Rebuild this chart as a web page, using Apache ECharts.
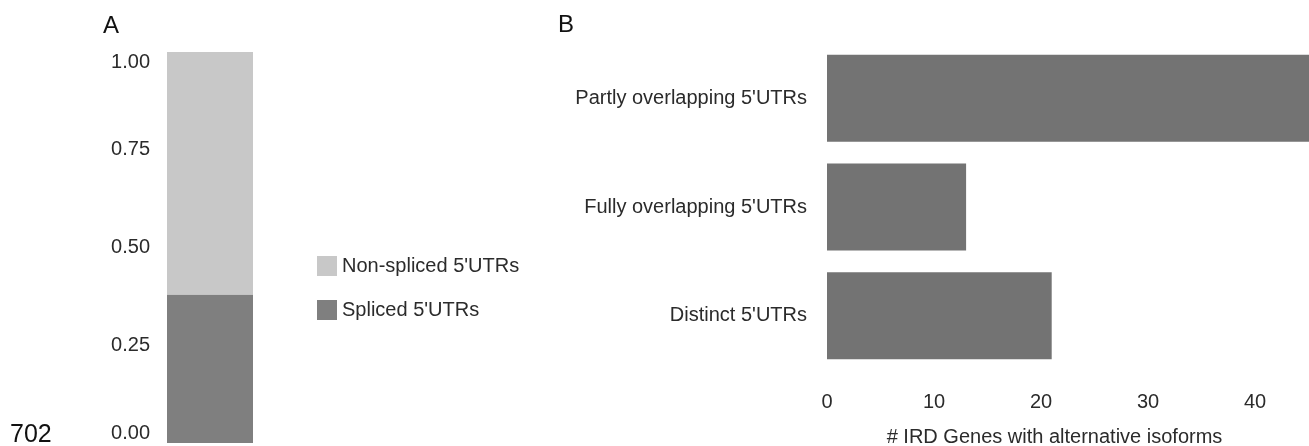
<!DOCTYPE html>
<html>
<head>
<meta charset="utf-8">
<script src="https://cdn.jsdelivr.net/npm/echarts@6/dist/echarts.min.js"></script>
<style>
  html, body { margin: 0; padding: 0; background: #fff; }
  #chart { width: 1309px; height: 446px; }
</style>
</head>
<body>
<div id="chart"></div>
<script>
// panel A: share of 5'UTRs
const splicedShare = [0.38];
const nonSplicedShare = [0.62];
const shareTicks = [0, 0.25, 0.5, 0.75, 1];

// panel B: genes per isoform type
const isoformTypes = ["Distinct 5'UTRs", "Fully overlapping 5'UTRs", "Partly overlapping 5'UTRs"];
const geneCounts = [21, 13, 47];

const font = 'Liberation Sans, Arial, sans-serif';
const textCol = '#2b2b2b';

const myChart = echarts.init(document.getElementById('chart'), null, { renderer: 'canvas' });

myChart.setOption({
  animation: false,
  backgroundColor: '#fff',
  textStyle: { fontFamily: font },
  title: [
    { text: 'A', left: 98, top: 9, padding: 5, textStyle: { fontSize: 24, fontWeight: 'normal', color: '#111', fontFamily: font } },
    { text: 'B', left: 553, top: 8, padding: 5, textStyle: { fontSize: 24, fontWeight: 'normal', color: '#111', fontFamily: font } },
    { text: '702', left: 5, top: 418, padding: 5, textStyle: { fontSize: 25, fontWeight: 'normal', color: '#111', fontFamily: font } }
  ],
  legend: {
    orient: 'vertical',
    left: 312,
    top: 251,
    itemWidth: 20,
    itemHeight: 20,
    itemGap: 24,
    icon: 'rect',
    data: ["Non-spliced 5'UTRs", "Spliced 5'UTRs"],
    textStyle: { fontSize: 20, color: textCol, fontFamily: font }
  },
  grid: [
    { left: 167, top: 52, width: 86, height: 391, outerBoundsMode: 'none', containLabel: false },
    { left: 827, top: 44, width: 535, height: 326, outerBoundsMode: 'none', containLabel: false }
  ],
  xAxis: [
    {
      gridIndex: 0, type: 'category', data: [''],
      axisLine: { show: false }, axisTick: { show: false }, axisLabel: { show: false }
    },
    {
      gridIndex: 1, type: 'value', min: 0, max: 50, interval: 10,
      axisLine: { show: false }, axisTick: { show: false }, splitLine: { show: false },
      axisLabel: { fontSize: 20, color: textCol, margin: 22 },
      name: '# IRD Genes with alternative isoforms',
      nameLocation: 'middle',
      nameGap: 57,
      nameTextStyle: { fontSize: 20, color: textCol, padding: [0, 80, 0, 0] }
    }
  ],
  yAxis: [
    {
      gridIndex: 0, type: 'value', min: shareTicks[0], max: shareTicks[shareTicks.length - 1], interval: 0.25,
      axisLine: { show: false }, axisTick: { show: false }, splitLine: { show: false },
      axisLabel: {
        fontSize: 20, color: textCol, margin: 17,
        verticalAlignMaxLabel: 'top', verticalAlignMinLabel: 'bottom',
        formatter: v => v.toFixed(2)
      }
    },
    {
      gridIndex: 1, type: 'category', data: isoformTypes,
      axisLine: { show: false }, axisTick: { show: false },
      axisLabel: { fontSize: 20, color: textCol, margin: 20 }
    }
  ],
  series: [
    {
      name: "Spliced 5'UTRs", type: 'bar', stack: 'a', xAxisIndex: 0, yAxisIndex: 0,
      barWidth: '100%', data: splicedShare,
      itemStyle: { color: '#7f7f7f' }
    },
    {
      name: "Non-spliced 5'UTRs", type: 'bar', stack: 'a', xAxisIndex: 0, yAxisIndex: 0,
      barWidth: '100%', data: nonSplicedShare,
      itemStyle: { color: '#c8c8c8' }
    },
    {
      name: 'genes', type: 'bar', xAxisIndex: 1, yAxisIndex: 1,
      barCategoryGap: '20%', data: geneCounts,
      itemStyle: { color: '#737373' }
    }
  ]
});
</script>
</body>
</html>
